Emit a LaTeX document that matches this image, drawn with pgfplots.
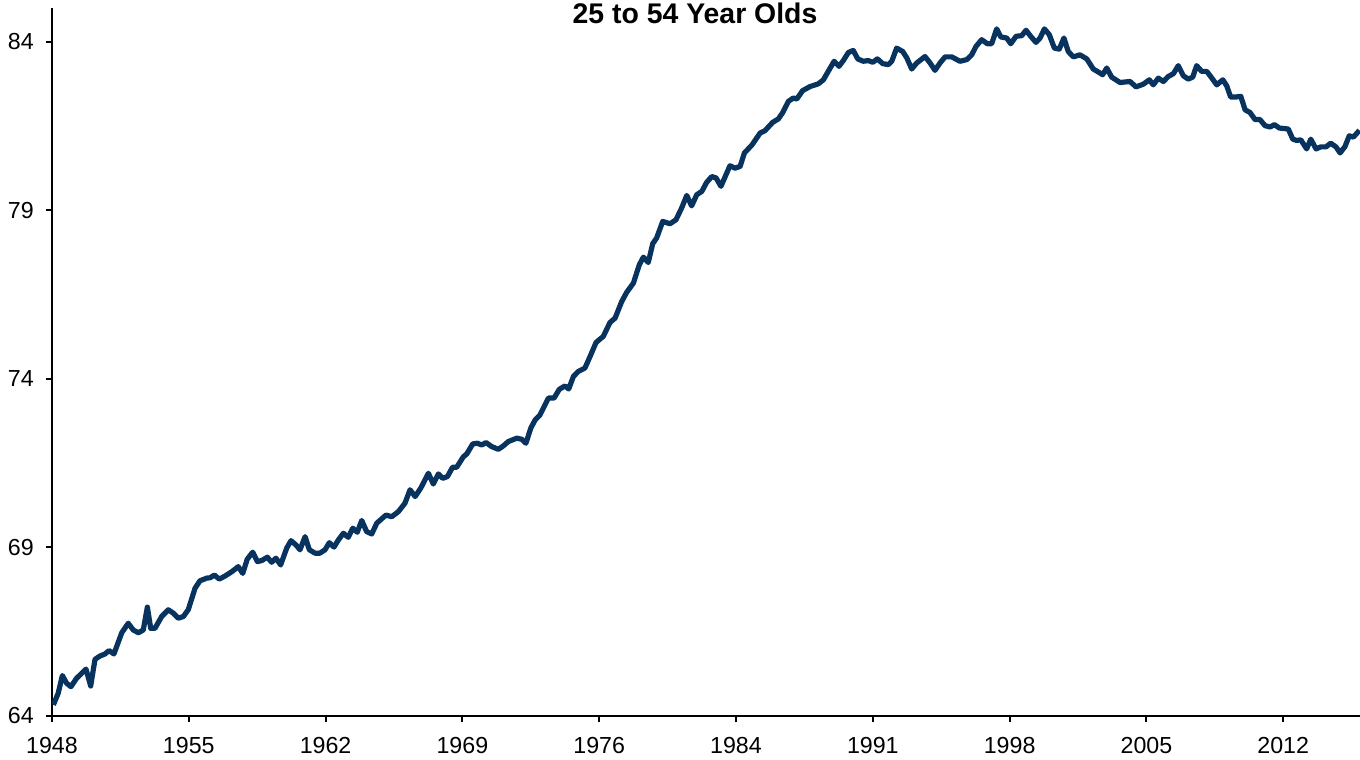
\documentclass[border=0pt]{standalone}
\usepackage{fontspec}
\setmainfont{Liberation Sans}
\usepackage{pgfplots}
\pgfplotsset{compat=1.18}
\definecolor{navy}{RGB}{8,51,94}

\begin{document}
\begin{tikzpicture}
\begin{axis}[
    scale only axis,
    width=981pt, height=531pt,
    xmin=1948, xmax=2014.93,
    ymin=64, ymax=85,
    axis x line*=bottom, axis y line*=left,
    axis line style={line width=1.5pt, black},
    tick align=outside,
    major tick length=4.5pt,
    tick style={line width=1.5pt, black},
    xtick={1948,1955,1962,1969,1976,1983,1990,1997,2004,2011},
    xticklabels={1948,1955,1962,1969,1976,1984,1991,1998,2005,2012},
    ytick={64,69,74,79,84},
    tick label style={font=\fontsize{17.4}{20}\selectfont},
    /pgf/number format/assume math mode=true,
    yticklabel style={inner sep=0pt, xshift=-9pt},
    xticklabel style={inner sep=0pt, yshift=-11.5pt},
]
\addplot[navy, line width=3.9pt, line join=round] coordinates {
(1948.07,64.33)(1948.32,64.68)(1948.53,65.20)(1948.75,64.97)(1948.97,64.87)
(1949.26,65.12)(1949.74,65.39)(1949.98,64.89)(1950.20,65.68)(1950.46,65.78)
(1950.71,65.84)(1950.92,65.94)(1951.17,65.84)(1951.57,66.47)(1951.90,66.75)
(1952.16,66.55)(1952.42,66.47)(1952.67,66.55)(1952.88,67.23)(1953.05,66.60)
(1953.27,66.60)(1953.61,66.95)(1953.95,67.15)(1954.21,67.05)(1954.46,66.90)
(1954.72,66.95)(1954.97,67.15)(1955.32,67.79)(1955.57,68.01)(1955.92,68.09)
(1956.09,68.10)(1956.31,68.18)(1956.56,68.06)(1956.85,68.15)(1957.20,68.28)
(1957.53,68.43)(1957.76,68.23)(1957.99,68.65)(1958.27,68.86)(1958.51,68.58)
(1958.73,68.61)(1959.02,68.71)(1959.24,68.56)(1959.46,68.68)(1959.70,68.48)
(1960.01,68.98)(1960.23,69.20)(1960.49,69.07)(1960.69,68.93)(1960.95,69.32)
(1961.17,68.93)(1961.46,68.83)(1961.71,68.83)(1961.97,68.93)(1962.19,69.14)
(1962.43,69.01)(1962.65,69.22)(1962.91,69.42)(1963.16,69.30)(1963.39,69.57)
(1963.62,69.45)(1963.85,69.80)(1964.10,69.47)(1964.36,69.40)(1964.62,69.72)
(1965.09,69.96)(1965.38,69.91)(1965.72,70.06)(1966.06,70.31)(1966.32,70.71)
(1966.58,70.51)(1966.87,70.76)(1967.26,71.20)(1967.51,70.88)(1967.77,71.18)
(1967.99,71.05)(1968.23,71.10)(1968.50,71.38)(1968.71,71.38)(1969.05,71.69)
(1969.22,71.77)(1969.53,72.07)(1969.76,72.09)(1969.99,72.04)(1970.21,72.11)
(1970.50,71.99)(1970.84,71.91)(1971.09,72.01)(1971.35,72.14)(1971.78,72.24)
(1972.03,72.21)(1972.25,72.09)(1972.50,72.54)(1972.72,72.78)(1972.97,72.93)
(1973.40,73.43)(1973.69,73.43)(1973.96,73.69)(1974.25,73.79)(1974.44,73.70)
(1974.68,74.07)(1974.93,74.22)(1975.27,74.32)(1975.53,74.66)(1975.84,75.08)
(1976.21,75.26)(1976.55,75.67)(1976.81,75.80)(1977.15,76.29)(1977.41,76.57)
(1977.75,76.84)(1978.05,77.38)(1978.26,77.61)(1978.51,77.45)(1978.74,78.01)
(1978.94,78.18)(1979.25,78.67)(1979.62,78.60)(1979.93,78.72)(1980.22,79.07)
(1980.48,79.44)(1980.73,79.13)(1980.99,79.46)(1981.25,79.56)(1981.50,79.83)
(1981.76,80.00)(1981.98,79.96)(1982.23,79.71)(1982.44,79.99)(1982.69,80.32)
(1982.95,80.25)(1983.21,80.30)(1983.43,80.70)(1983.82,80.94)(1984.23,81.29)
(1984.48,81.36)(1984.88,81.61)(1985.17,81.71)(1985.39,81.90)(1985.68,82.23)
(1985.93,82.33)(1986.11,82.30)(1986.41,82.55)(1986.79,82.67)(1987.21,82.75)
(1987.47,82.87)(1987.72,83.12)(1988.02,83.42)(1988.27,83.27)(1988.49,83.44)
(1988.75,83.68)(1989.00,83.74)(1989.23,83.49)(1989.51,83.42)(1989.77,83.44)
(1990.00,83.39)(1990.23,83.49)(1990.51,83.35)(1990.79,83.32)(1990.97,83.42)
(1991.22,83.81)(1991.53,83.71)(1991.74,83.52)(1991.99,83.19)(1992.25,83.37)
(1992.67,83.56)(1992.93,83.37)(1993.18,83.15)(1993.44,83.37)(1993.70,83.55)
(1994.04,83.55)(1994.46,83.42)(1994.81,83.47)(1995.06,83.61)(1995.28,83.86)
(1995.57,84.06)(1995.86,83.94)(1996.08,83.94)(1996.34,84.38)(1996.55,84.14)
(1996.85,84.11)(1997.06,83.94)(1997.33,84.16)(1997.62,84.18)(1997.84,84.34)
(1998.08,84.16)(1998.35,83.98)(1998.56,84.11)(1998.78,84.38)(1999.03,84.21)
(1999.29,83.81)(1999.54,83.78)(1999.78,84.11)(2000.00,83.71)(2000.26,83.55)
(2000.60,83.61)(2000.95,83.49)(2001.28,83.19)(2001.63,83.07)(2001.76,83.02)
(2001.97,83.22)(2002.22,82.95)(2002.65,82.79)(2003.16,82.82)(2003.47,82.66)
(2003.84,82.74)(2004.15,82.87)(2004.35,82.72)(2004.61,82.92)(2004.87,82.82)
(2005.12,82.97)(2005.38,83.05)(2005.63,83.29)(2005.89,82.99)(2006.14,82.89)
(2006.37,82.95)(2006.57,83.29)(2006.83,83.12)(2007.09,83.12)(2007.31,82.95)
(2007.60,82.72)(2007.91,82.87)(2008.11,82.69)(2008.31,82.36)(2008.59,82.36)
(2008.83,82.38)(2009.05,81.98)(2009.30,81.90)(2009.56,81.69)(2009.81,81.69)
(2010.07,81.51)(2010.33,81.47)(2010.55,81.54)(2010.80,81.44)(2011.26,81.41)
(2011.49,81.11)(2011.69,81.07)(2011.90,81.09)(2012.20,80.82)(2012.41,81.11)
(2012.68,80.82)(2012.92,80.88)(2013.19,80.88)(2013.43,80.99)(2013.70,80.88)
(2013.91,80.70)(2014.16,80.89)(2014.38,81.21)(2014.59,81.17)(2014.90,81.37)
};
\end{axis}
\node[anchor=base, font=\fontsize{21.3}{24}\selectfont\bfseries] at (482.25pt,519.5pt) {25 to 54 Year Olds};
\pgfresetboundingbox
\path (-39pt,-33pt) rectangle (981pt,537pt);
\end{tikzpicture}
\end{document}
